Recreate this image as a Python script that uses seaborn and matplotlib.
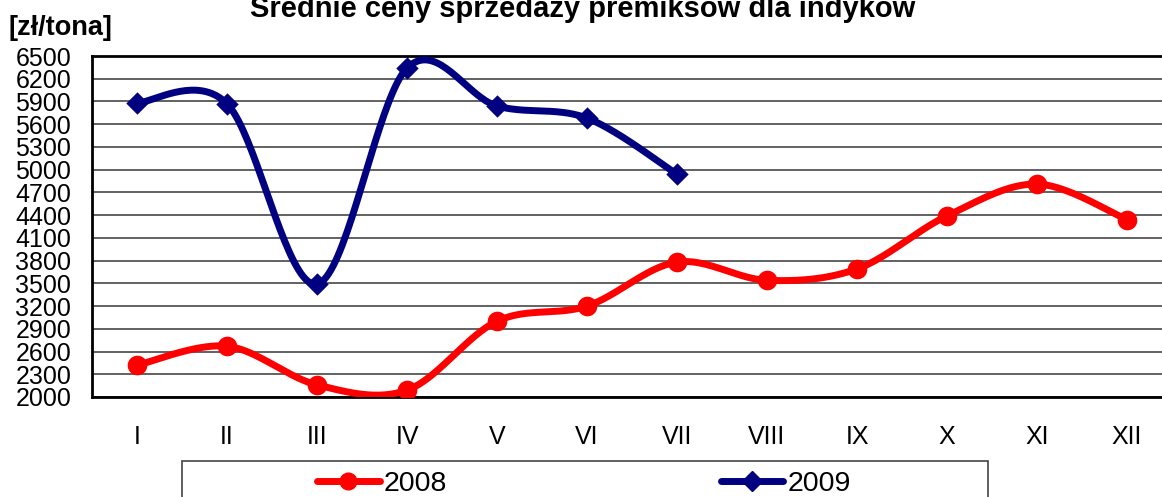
import numpy as np
import pandas as pd
import matplotlib
matplotlib.use("Agg")
import matplotlib.pyplot as plt
import seaborn as sns
from matplotlib.lines import Line2D
from matplotlib.patches import Rectangle

# data
months = ["I", "II", "III", "IV", "V", "VI", "VII", "VIII", "IX", "X", "XI", "XII"]
ceny_2008 = [2420, 2670, 2160, 2090, 3000, 3200, 3780, 3540, 3690, 4390, 4810, 4340]
ceny_2009 = [5880, 5870, 3490, 6340, 5840, 5680, 4940]
y_ticks = list(range(2000, 6501, 300))

title = "Średnie ceny sprzedaży premiksów dla indyków"
unit = "[zł/tona]"

RED = "#ff0000"
NAVY = "#000080"


def smooth(xs, ys, n=40):
    # Excel-like smoothed line: cubic Bezier with Catmull-Rom control points
    p = np.column_stack([xs, ys]).astype(float)
    p = np.vstack([p[0], p, p[-1]])
    t = np.linspace(0, 1, n)[:, None]
    segs = []
    for i in range(1, len(p) - 2):
        p0, p1, p2, p3 = p[i - 1], p[i], p[i + 1], p[i + 2]
        c1 = p1 + (p2 - p0) / 6
        c2 = p2 - (p3 - p1) / 6
        segs.append((1 - t) ** 3 * p1 + 3 * (1 - t) ** 2 * t * c1
                    + 3 * (1 - t) * t ** 2 * c2 + t ** 3 * p2)
    s = np.vstack(segs)
    return s[:, 0], s[:, 1]


df08 = pd.DataFrame({"x": np.arange(len(ceny_2008)), "cena": ceny_2008})
df09 = pd.DataFrame({"x": np.arange(len(ceny_2009)), "cena": ceny_2009})
sx08, sy08 = smooth(df08["x"], df08["cena"])
sx09, sy09 = smooth(df09["x"], df09["cena"])

sns.set_style("white")
plt.rcParams["font.family"] = ["Liberation Sans", "DejaVu Sans"]
plt.rcParams["text.color"] = "black"

W, H = 1162, 497
fig = plt.figure(figsize=(W / 100, H / 100), dpi=100)
ax = fig.add_axes([92 / W, 1 - 397 / H, (1172 - 92) / W, (397 - 56) / H])

sns.lineplot(x=sx08, y=sy08, sort=False, estimator=None, color=RED, lw=5, ax=ax, zorder=3)
sns.lineplot(x=sx09, y=sy09, sort=False, estimator=None, color=NAVY, lw=5, ax=ax, zorder=3)
sns.scatterplot(data=df08, x="x", y="cena", marker="o", s=200, color=RED,
                edgecolor=RED, linewidth=0, ax=ax, zorder=4)
sns.scatterplot(data=df09, x="x", y="cena", marker="D", s=130, color=NAVY,
                edgecolor=NAVY, linewidth=0, ax=ax, zorder=4)

ax.set_xlim(-0.5, 11.5)
ax.set_ylim(2000, 6500)
ax.set_xticks(range(len(months)))
ax.set_xticklabels(months, fontsize=18)
ax.set_xticks(np.arange(0.5, 11, 1), minor=True)
ax.tick_params(axis="x", which="major", length=0, pad=20, labelcolor="black")
ax.tick_params(axis="x", which="minor", direction="in", length=8, width=1.2, color="#666666")
ax.set_yticks(y_ticks)
ax.set_yticklabels([str(v) for v in y_ticks], fontsize=18)
ax.tick_params(axis="y", direction="out", length=9, width=1.2, color="#666666", pad=6,
               labelcolor="black")
ax.grid(axis="y", color="#555555", lw=1.3)
ax.set_axisbelow(True)
ax.set_xlabel("")
ax.set_ylabel("")

for side in ["left", "bottom", "top"]:
    ax.spines[side].set_color("black")
    ax.spines[side].set_linewidth(2)
ax.spines["right"].set_visible(False)

fig.text(583 / W, 1 - 17 / H, title, ha="center", va="baseline",
         fontsize=21, fontweight="bold", color="black")
fig.text(8 / W, 1 - 35 / H, unit, ha="left", va="baseline",
         fontsize=19.5, fontweight="bold", color="black")

# legend box (cut off at the bottom, as in the original)
fig.patches.append(Rectangle((182 / W, -0.1), (988 - 182) / W, 0.1 + 1 - 461 / H,
                             transform=fig.transFigure, fill=False,
                             edgecolor="#444444", lw=1.2))
handles = [
    Line2D([], [], color=RED, lw=5, marker="o", markersize=12),
    Line2D([], [], color=NAVY, lw=5, marker="D", markersize=10),
]
leg = fig.legend(handles, ["2008", "2009"], ncol=2, frameon=False, fontsize=20.5,
                 loc="center left", bbox_to_anchor=(317 / W, 1 - 484 / H),
                 handlelength=2.2, handletextpad=0.15, columnspacing=9.6,
                 borderpad=0, borderaxespad=0)
for txt in leg.get_texts():
    txt.set_color("black")

fig.savefig("out.png", dpi=100, facecolor="white")
